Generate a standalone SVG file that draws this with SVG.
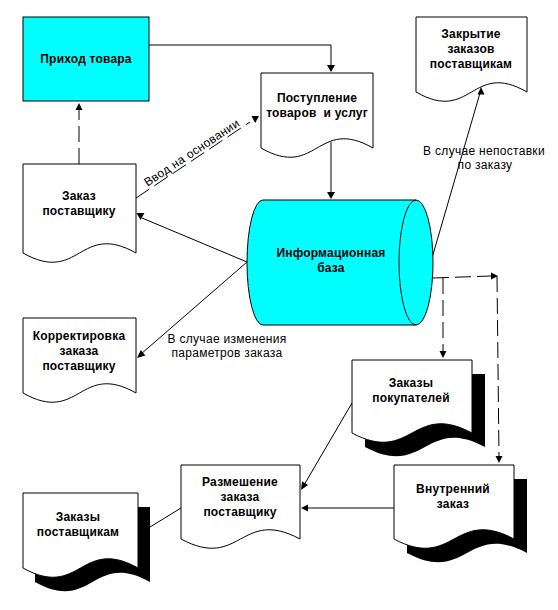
<svg xmlns="http://www.w3.org/2000/svg" width="558" height="610" viewBox="0 0 558 610">
<style>
.shape{fill:#fff;stroke:#000;stroke-width:1}
.cyan{fill:#00ffff;stroke:#000;stroke-width:1}
.shadow{fill:#000;stroke:none}
.ln{fill:none;stroke:#000;stroke-width:1}
.dash{fill:none;stroke:#000;stroke-width:1;stroke-dasharray:16,6}
.ah{fill:#000;stroke:none}
.t{font-family:"Liberation Sans",Arial,sans-serif;font-size:12px;font-weight:bold;text-anchor:middle;fill:#000;letter-spacing:0.2px}
.l{font-family:"Liberation Sans",Arial,sans-serif;font-size:12px;text-anchor:middle;fill:#000;letter-spacing:0.3px}
</style>
<rect width="558" height="610" fill="#fff"/>
<g id="connectors">
<path class="ln" d="M149,45 H331 V65"/>
<polygon class="ah" points="327,65 335,65 331,72"/>
<path class="ln" d="M331,142 V192"/>
<polygon class="ah" points="327,192 335,192 331,199"/>
<path class="dash" d="M79,164 V110"/>
<polygon class="ah" points="75.5,110 82.5,110 79,103"/>
<path class="dash" d="M136,198 L250,122"/>
<polygon class="ah" points="251.5,116 259,116 255.2,123"/>
<path class="ln" d="M247,262 L142,218"/>
<polygon class="ah" points="136.5,213 144.5,213 140.5,220"/>
<path class="ln" d="M247,262 L141,354"/>
<polygon class="ah" points="137,358 145.3,355.4 140.8,350.1"/>
<path class="ln" d="M432,258 L480,93"/>
<polygon class="ah" points="477.5,94.5 484.5,94.5 481,87"/>
<path class="dash" d="M433,278 L491,276"/>
<polygon class="ah" points="491,272.5 491,279.5 498,276"/>
<path class="dash" d="M443,278 V351"/>
<polygon class="ah" points="439.5,351 446.5,351 443,358"/>
<path class="dash" d="M497,276 L499,456"/>
<polygon class="ah" points="495.5,456 502.5,456 499,463"/>
<path class="ln" d="M352,403 L304,485"/>
<polygon class="ah" points="301,490 308.1,484.9 302,481.3"/>
<path class="ln" d="M394,508 H308"/>
<polygon class="ah" points="308,504.5 308,511.5 301,508"/>
<path class="ln" d="M150,527 L181,508"/>
<text class="l" transform="translate(194,156) rotate(-33.5)">Ввод на основании</text>
<text class="l" x="227" y="343">В случае изменения</text>
<text class="l" x="227" y="357">параметров заказа</text>
<text class="l" x="484" y="155">В случае непоставки</text>
<text class="l" x="485" y="169">по заказу</text>
</g>
<g id="prihod">
<rect class="cyan" x="23" y="17" width="126" height="84"/>
<text class="t" x="86" y="63">Приход товара</text>
</g>
<g id="postuplenie">
<path class="shape" d="M261,73 H373 V148 C317,116 317,180 261,148 Z"/>
<text class="t" x="317" y="102">Поступление</text>
<text class="t" x="317" y="117" xml:space="preserve">товаров  и услуг</text>
</g>
<g id="zakrytie">
<path class="shape" d="M416,17 H527 V92 C471.5,60 471.5,124 416,92 Z"/>
<text class="t" x="471" y="38">Закрытие</text>
<text class="t" x="471" y="53">заказов</text>
<text class="t" x="471" y="68">поставщикам</text>
</g>
<g id="zakaz">
<path class="shape" d="M23,164 H136 V253 C79.5,221 79.5,285 23,253 Z"/>
<text class="t" x="79" y="200">Заказ</text>
<text class="t" x="79" y="215">поставщику</text>
</g>
<g id="baza">
<path class="cyan" d="M263,200 L416,200 A17,62.5 0 0,1 416,325 L263,325 A16,62.5 0 0,1 263,200 Z"/>
<path class="ln" d="M416,200 A17,62.5 0 0,0 416,325"/>
<text class="t" x="331" y="257">Информационная</text>
<text class="t" x="331" y="272">база</text>
</g>
<g id="korrektirovka">
<path class="shape" d="M23,318 H136 V393 C79.5,361 79.5,425 23,393 Z"/>
<text class="t" x="79" y="340">Корректировка</text>
<text class="t" x="79" y="355">заказа</text>
<text class="t" x="79" y="370">поставщику</text>
</g>
<g id="zakazy-pokupatelei">
<path class="shadow" d="M365,374 H485 V447 C425,415 425,479 365,447 Z"/>
<path class="shape" d="M352,360 H472 V433 C412,401 412,465 352,433 Z"/>
<text class="t" x="411" y="387">Заказы</text>
<text class="t" x="411" y="402">покупателей</text>
</g>
<g id="razmeshenie">
<path class="shape" d="M181,465 H300 V539 C240.5,507 240.5,571 181,539 Z"/>
<text class="t" x="240" y="486">Размешение</text>
<text class="t" x="240" y="501">заказа</text>
<text class="t" x="240" y="516">поставщику</text>
</g>
<g id="vnutrenniy">
<path class="shadow" d="M407,479 H527 V553 C467,521 467,585 407,553 Z"/>
<path class="shape" d="M394,465 H514 V539 C454,507 454,571 394,539 Z"/>
<text class="t" x="453" y="493">Внутренний</text>
<text class="t" x="453" y="508">заказ</text>
</g>
<g id="zakazy-postavshchikam">
<path class="shadow" d="M35,507 H150 V582 C92.5,550 92.5,614 35,582 Z"/>
<path class="shape" d="M23,493 H138 V568 C80.5,536 80.5,600 23,568 Z"/>
<text class="t" x="78" y="521">Заказы</text>
<text class="t" x="78" y="536">поставщикам</text>
</g>
</svg>
